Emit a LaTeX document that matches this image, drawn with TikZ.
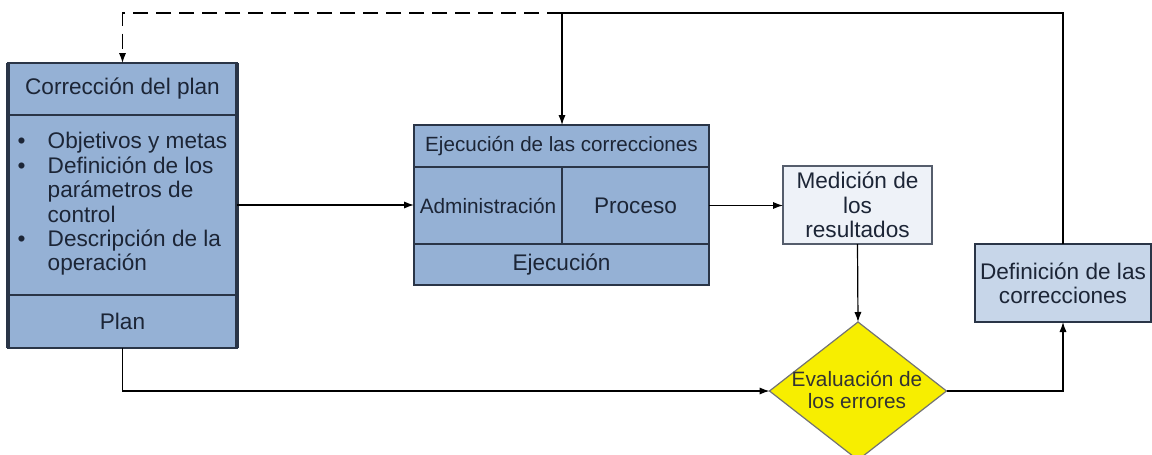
\documentclass[tikz,border=0pt]{standalone}
\usepackage{fontspec}
\setmainfont{Liberation Sans}
\usepackage{xcolor}
\usetikzlibrary{arrows.meta,positioning,shapes.geometric}
\definecolor{midblue}{HTML}{95B1D5}
\definecolor{paleblue}{HTML}{EEF2F8}
\definecolor{lightblue}{HTML}{C7D6E9}
\definecolor{edgenavy}{HTML}{2A3547}
\definecolor{textnavy}{HTML}{1C2536}
\definecolor{signal}{HTML}{F7EE00}

\begin{document}
\begin{tikzpicture}[x=0.5pt, y=-0.5pt, node distance=0pt, font=\fontsize{11.3}{12.2}\selectfont]
\tikzstyle{block}=[draw=edgenavy, line width=0.8pt, fill=midblue, align=center, inner sep=0pt, outer sep=0pt, text=textnavy]
\tikzstyle{lightbox}=[block, fill=paleblue, draw=edgenavy!80]
\tikzstyle{fixbox}=[block, fill=lightblue]
\tikzstyle{decision}=[diamond, draw=black!55, line width=0.6pt, fill=signal, inner sep=0pt, outer sep=0pt]
\tikzstyle{link}=[draw=black, line width=0.6pt, -{Latex[length=5pt,width=3.6pt]}]

\fill[white] (0,0) rectangle (1152,455);
\useasboundingbox (0,0) rectangle (1152,455);

% plan column
\node[block, minimum width=114.5pt, minimum height=26pt, anchor=north] (corr) at (122.5,63) {Corrección del plan};
\node[block, minimum width=114.5pt, minimum height=90pt, below=of corr] (goals) {\begin{tabular}{@{}p{15pt}@{}l@{}}
\textbullet & Objetivos y metas\\
\textbullet & Definición de los\\
 & parámetros de\\
 & control\\
\textbullet & Descripción de la\\
 & operación
\end{tabular}};
\node[block, minimum width=114.5pt, minimum height=26.5pt, below=of goals] (plan) {Plan};
\draw[edgenavy, line width=1.6pt] (corr.north west) -- (plan.south west);
\draw[edgenavy, line width=1.6pt] (corr.north east) -- (plan.south east);

% execution block
\node[block, minimum width=147.5pt, minimum height=21pt, anchor=north, font=\fontsize{10.3}{12}\selectfont] (fixhead) at (561.5,125) {Ejecución de las correcciones};
\node[block, minimum width=74pt, minimum height=38.5pt, anchor=north west, font=\fontsize{10.4}{12}\selectfont] (admin) at (fixhead.south west) {Administración};
\node[block, minimum width=73.5pt, minimum height=38.5pt, right=of admin] (process) {Proceso};
\node[block, minimum width=147.5pt, minimum height=20.5pt, anchor=north west] (exec) at (admin.south west) {Ejecución};

% measuring and correcting
\node[lightbox, minimum width=74.5pt, minimum height=39pt] (measure) at (857.5,205) {Medición de\\los\\resultados};
\node[decision, minimum width=88.5pt, minimum height=69pt] (eval) at (858,391) {};
\node[font=\fontsize{10.4}{11.2}\selectfont, align=center, text=black!80, inner sep=0pt] (evaltext) at (857,390) {Evaluación de\\los errores};
\node[fixbox, minimum width=88pt, minimum height=39pt] (define) at (1063,283) {Definición de las\\correcciones};

\coordinate (fork) at (562,13);

\draw[link] (goals.east) -- (goals.east -| admin.west);
\draw[link] (process.east) -- (process.east -| measure.west);
\draw[link] (measure.south) -- (eval.north);
\draw[link] (plan.south) |- (eval.west);
\draw[link] (eval.east) -| (define.south);
\draw[link] (define.north) |- (fork) -- (fork |- fixhead.north);
\draw[link, dash pattern=on 7.5pt off 4pt] (fork) -| (corr.north);
\end{tikzpicture}
\end{document}
